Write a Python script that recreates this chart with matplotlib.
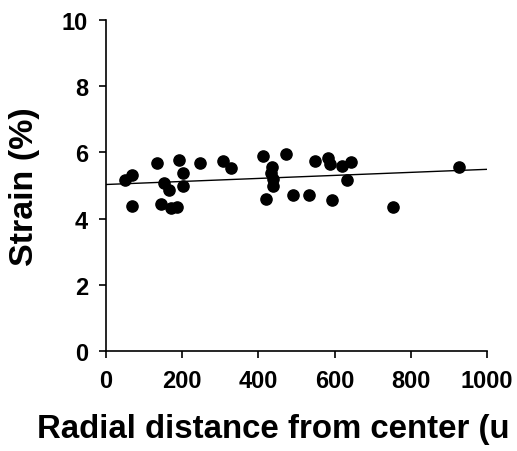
import numpy as np
import matplotlib.pyplot as plt

plt.rcParams['font.family'] = ['Liberation Sans', 'DejaVu Sans']
plt.rcParams['font.weight'] = 'bold'

# radial distance (x) and strain % (y)
distance = [50, 68, 68, 134, 152, 165, 144, 171, 186, 192, 202, 202, 247,
            307, 328, 412, 472, 436, 433, 438, 438, 420, 491, 549, 583, 588,
            619, 643, 633, 533, 593, 753, 926]
strain = [5.18, 5.33, 4.39, 5.67, 5.09, 4.85, 4.45, 4.33, 4.36, 5.76, 5.39,
          5.0, 5.67, 5.73, 5.52, 5.88, 5.94, 5.55, 5.39, 5.21, 5.0, 4.58,
          4.70, 5.73, 5.82, 5.64, 5.58, 5.70, 5.18, 4.70, 4.55, 4.36, 5.55]
xticks = [0, 200, 400, 600, 800, 1000]
yticks = [0, 2, 4, 6, 8, 10]

fig = plt.figure(figsize=(5.17, 4.52), dpi=100)
ax = fig.add_axes([0.205, 0.2212, 0.737, 0.7323])

ax.scatter(distance, strain, s=65, color='black', zorder=3)

slope, icpt = np.polyfit(distance, strain, 1)
xs = np.array([0, 1000])
ax.plot(xs, slope * xs + icpt, color='black', lw=1)

ax.set_xlim(0, 1000)
ax.set_ylim(0, 10)
ax.set_xticks(xticks)
ax.set_yticks(yticks)
ax.tick_params(labelsize=17, length=5, width=1.2, direction='out', pad=8)
for s in ['top', 'right']:
    ax.spines[s].set_visible(False)
for s in ['left', 'bottom']:
    ax.spines[s].set_linewidth(1.2)

ax.set_ylabel('Strain (%)', fontsize=24.5, fontweight='bold', va='center')
ax.yaxis.set_label_coords(-0.213, 0.5)
ax.set_xlabel('Radial distance from center (u', fontsize=23.8, fontweight='bold',
              ha='left', va='baseline')
ax.xaxis.set_label_coords(-0.18, -0.26)

fig.savefig('out.png', dpi=100)
